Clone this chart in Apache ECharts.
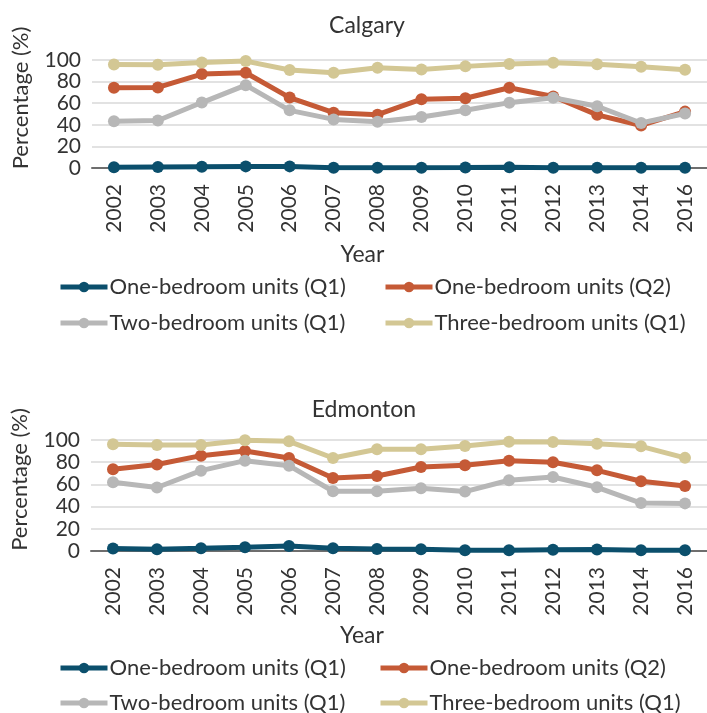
<!DOCTYPE html>
<html>
<head>
<meta charset="utf-8">
<script src="https://cdn.jsdelivr.net/npm/echarts@6/dist/echarts.min.js"></script>
<style>
html,body{margin:0;padding:0;background:#fff;}
#chart{width:707px;height:713px;}
</style>
</head>
<body>
<div id="chart"></div>
<script>
const years = ['2002','2003','2004','2005','2006','2007','2008','2009','2010','2011','2012','2013','2014','2016'];
const yTicks = [0, 20, 40, 60, 80, 100];
const seriesNames = ['One-bedroom units (Q1)','One-bedroom units (Q2)','Two-bedroom units (Q1)','Three-bedroom units (Q1)'];
const colors = ['#0B4F6C','#C55A36','#B7B7B7','#D3C794'];

const calgaryOneQ1 = [0.6,0.9,1.2,1.5,1.5,0.3,0.3,0.3,0.4,0.6,0.3,0.3,0.3,0.3];
const calgaryOneQ2 = [74.4,74.6,87,88.2,65.2,51.2,49.4,63.7,64.6,74.3,66.2,49.2,39.4,52.2];
const calgaryTwoQ1 = [43.3,44,60.6,76.7,53.4,45,42.9,47.2,53.4,60.5,65.1,57.2,41.7,50.4];
const calgaryThreeQ1 = [95.8,95.6,97.6,99,90.7,88.2,92.9,91.3,94.1,96.3,97.4,96,93.8,91];

const edmontonOneQ1 = [2.2,1.6,2.4,3.3,4.5,2.4,1.8,1.5,0.7,0.7,1.2,1.3,0.7,0.7];
const edmontonOneQ2 = [73.6,77.9,85.9,90.1,83.8,65.8,67.6,75.7,77.2,81.4,80,72.7,62.8,58.6];
const edmontonTwoQ1 = [61.9,57.2,72.4,81.4,76.9,53.8,53.8,56.5,53.5,63.7,66.7,57.4,43.2,42.9];
const edmontonThreeQ1 = [96.1,95.6,95.5,99.7,98.8,83.8,91.6,91.6,94.6,98.5,98.3,96.6,94.3,83.9];

const charts = [
  {title:'Calgary', titleX:362, titleY:21, grid:{left:92, top:60, width:624, height:108},
   data:[calgaryOneQ1,calgaryOneQ2,calgaryTwoQ1,calgaryThreeQ1],
   yearGap:75, legendRows:[287,323], legendCols:[58,383]},
  {title:'Edmonton', titleX:359, titleY:405, grid:{left:91, top:440, width:617, height:111},
   data:[edmontonOneQ1,edmontonOneQ2,edmontonTwoQ1,edmontonThreeQ1],
   yearGap:73, legendRows:[668,703], legendCols:[58,378]}
];

const FONT = 'Lato';
const TXT = '#333333';
const FS = 21;

const option = {
  animation:false,
  backgroundColor:'#ffffff',
  textStyle:{fontFamily:FONT, color:TXT},
  title:[], grid:[], xAxis:[], yAxis:[], series:[], legend:[]
};

charts.forEach((c, i) => {
  option.title.push({
    text:c.title, left:c.titleX, top:c.titleY, textAlign:'center', textVerticalAlign:'middle',
    textStyle:{fontFamily:FONT, fontSize:23, fontWeight:'normal', color:TXT}
  });
  option.grid.push(Object.assign({containLabel:false}, c.grid));
  option.xAxis.push({
    type:'category', gridIndex:i, data:years, boundaryGap:true,
    name:'Year', nameLocation:'middle', nameGap:c.yearGap,
    nameTextStyle:{fontFamily:FONT, fontSize:23, color:TXT, padding:[0,74,0,0]},
    axisLine:{show:true, lineStyle:{color:'#6E6E6E', width:2}},
    axisTick:{show:false},
    axisLabel:{rotate:90, margin:16, fontFamily:FONT, fontSize:FS, color:TXT, interval:0},
    splitLine:{show:false}
  });
  option.yAxis.push({
    type:'value', gridIndex:i, min:yTicks[0], max:yTicks[yTicks.length-1], interval:20,
    name:'Percentage (%)', nameLocation:'middle', nameGap:60,
    nameTextStyle:{fontFamily:FONT, fontSize:22, color:TXT, padding:[0,0,0,32]},
    axisLine:{show:false}, axisTick:{show:false},
    axisLabel:{margin:11, fontFamily:FONT, fontSize:FS, color:TXT},
    splitLine:{show:true, lineStyle:{color:'#D9D9D9', width:1.5}}
  });
  seriesNames.forEach((n, k) => {
    option.series.push({
      type:'line', name:n, xAxisIndex:i, yAxisIndex:i, data:c.data[k],
      symbol:'circle', symbolSize:12, showSymbol:true,
      lineStyle:{color:colors[k], width:5},
      itemStyle:{color:colors[k]},
      z:2+k
    });
  });
  const pos = [[0,0],[0,1],[1,0],[1,1]]; // [row, col]
  seriesNames.forEach((n, k) => {
    const rc = pos[k];
    option.legend.push({
      data:[n], left:c.legendCols[rc[1]], top:c.legendRows[rc[0]]-11,
      padding:0, itemWidth:47, itemHeight:13, itemGap:0,
      lineStyle:{width:5},
      textStyle:{fontFamily:FONT, fontSize:22, color:TXT, lineHeight:22, padding:[0,0,0,-3]},
      selectedMode:false
    });
  });
});

const chart = echarts.init(document.getElementById('chart'), null, {renderer:'canvas'});
chart.setOption(option);
</script>
</body>
</html>
